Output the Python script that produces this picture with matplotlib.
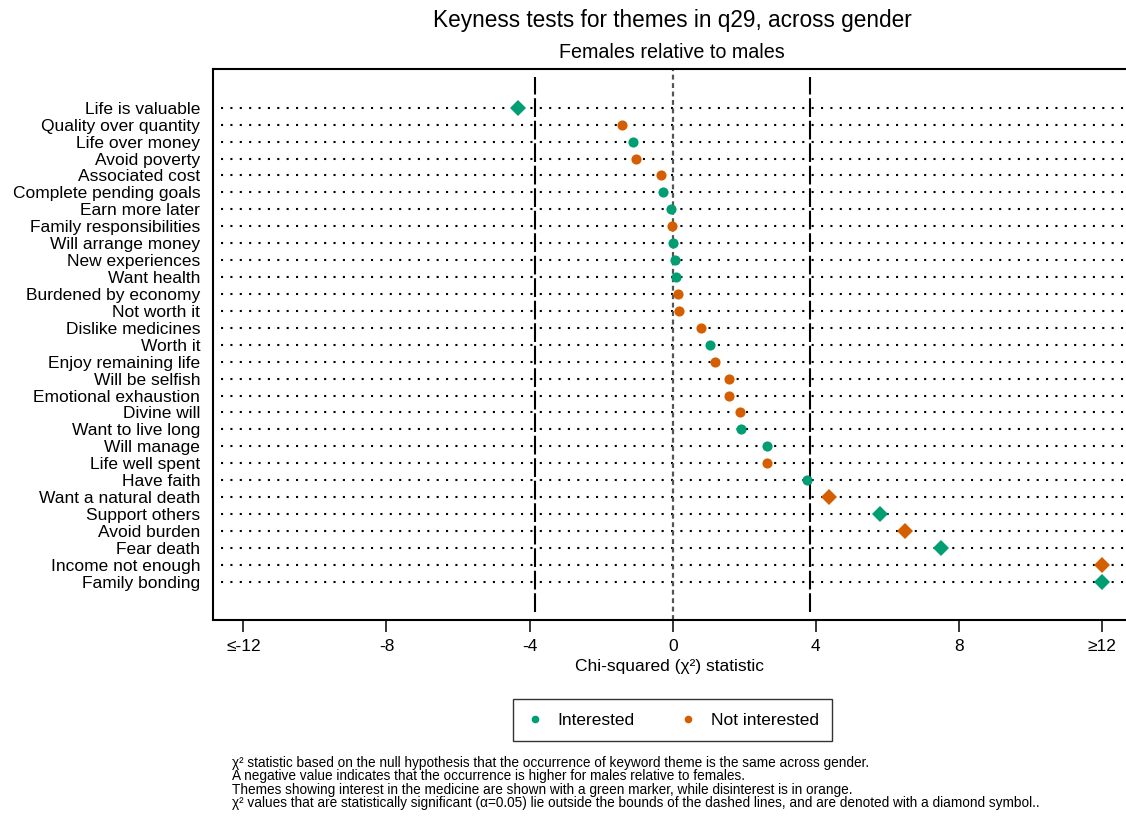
import matplotlib
matplotlib.use("Agg")
import matplotlib.pyplot as plt
from matplotlib.lines import Line2D

plt.rcParams['font.family'] = ['Liberation Sans', 'DejaVu Sans']

# ---------------- data ----------------
themes = [
    "Life is valuable", "Quality over quantity", "Life over money", "Avoid poverty",
    "Associated cost", "Complete pending goals", "Earn more later", "Family responsibilities",
    "Will arrange money", "New experiences", "Want health", "Burdened by economy",
    "Not worth it", "Dislike medicines", "Worth it", "Enjoy remaining life",
    "Will be selfish", "Emotional exhaustion", "Divine will", "Want to live long",
    "Will manage", "Life well spent", "Have faith", "Want a natural death",
    "Support others", "Avoid burden", "Fear death", "Income not enough", "Family bonding",
]
chi2 = [
    -4.33, -1.41, -1.10, -1.03,
    -0.32, -0.28, -0.06, -0.02,
    0.00, 0.06, 0.10, 0.15,
    0.18, 0.79, 1.03, 1.17,
    1.57, 1.58, 1.88, 1.91,
    2.63, 2.64, 3.75, 4.37,
    5.79, 6.49, 7.49, 12.0, 12.0,
]
interested = [
    True, False, True, False,
    False, True, True, False,
    True, True, True, False,
    False, False, True, False,
    False, False, False, True,
    True, False, True, False,
    True, False, True, False, True,
]
xticks = [-12, -8, -4, 0, 4, 8, 12]
xticklabels = ["≤-12", "-8", "-4", "0", "4", "8", "≥12"]
critical = 3.84

GREEN = "#009E73"
ORANGE = "#D55E00"

W, H = 1126, 816
fig = plt.figure(figsize=(W / 100, H / 100), dpi=100)

left_px, right_px, top_px, bot_px = 212.7, 1126, 69.3, 619.5
ax = fig.add_axes([left_px / W, 1 - bot_px / H, (right_px - left_px) / W, (bot_px - top_px) / H])

n = len(themes)
ys = list(range(n))

# dotted row guides
for y in ys:
    ax.axhline(y, xmin=0.009, xmax=1, color="black", lw=1.5,
               linestyle=(0, (1, 3.5)), dash_capstyle="butt", zorder=1)

# reference lines
for c in (-critical, critical):
    ax.axvline(c, ymin=0.014, ymax=0.986, color="black", lw=1.5,
               linestyle=(0, (9, 1.8)), zorder=2)
ax.axvline(0, color="#555555", lw=1.6, linestyle=(0, (2.2, 1.6)), zorder=2)

# markers
for x, y, it in zip(chi2, ys, interested):
    col = GREEN if it else ORANGE
    if abs(x) > critical:
        ax.plot([x], [y], marker="D", ms=8.6, color=col, mec=col, mew=0, zorder=3, ls="none")
    else:
        ax.plot([x], [y], marker="o", ms=7.3, color=col, mec=col, mew=0, zorder=3, ls="none")

x0 = 672.7
scale = 35.78
ax.set_xlim((left_px - x0) / scale, (right_px - x0) / scale)
ax.set_ylim(n - 1 + 2.23, -2.27)

ax.set_yticks(ys)
ax.set_yticklabels(themes, fontsize=12.5)
ax.tick_params(axis="y", length=0, pad=9)

ax.set_xticks(xticks)
ax.set_xticklabels(xticklabels, fontsize=12.5)
ax.tick_params(axis="x", direction="out", length=8.3, width=1.1, pad=6)
ax.set_xlabel("Chi-squared (χ²) statistic", fontsize=12.5, labelpad=3)

for s in ("left", "bottom", "top"):
    ax.spines[s].set_linewidth(1.5)
ax.spines["right"].set_visible(False)

fig.text(672 / W, 1 - 20 / H, "Keyness tests for themes in q29, across gender",
         ha="center", va="center", fontsize=16.3)
fig.text(672 / W, 1 - 52 / H, "Females relative to males",
         ha="center", va="center", fontsize=14.2)

handles = [
    Line2D([], [], marker="o", ls="none", color=GREEN, mew=0, ms=5.5),
    Line2D([], [], marker="o", ls="none", color=ORANGE, mew=0, ms=5.5),
]
leg = fig.legend(handles, ["Interested", "Not interested"], ncol=2,
                 loc="center", bbox_to_anchor=(672.5 / W, 1 - 720 / H),
                 fontsize=12.5, frameon=True, fancybox=False, edgecolor="black",
                 handlelength=1.0, handletextpad=0.8, columnspacing=2.6,
                 borderpad=0.75, borderaxespad=0)
leg.get_frame().set_linewidth(1.0)

notes = [
    "χ² statistic based on the null hypothesis that the occurrence of keyword theme is the same across gender.",
    "A negative value indicates that the occurrence is higher for males relative to females.",
    "Themes showing interest in the medicine are shown with a green marker, while disinterest is in orange.",
    "χ² values that are statistically significant (α=0.05) lie outside the bounds of the dashed lines, and are denoted with a diamond symbol..",
]
for i, t in enumerate(notes):
    fig.text(232 / W, 1 - (763 + 13.4 * i) / H, t, ha="left", va="center", fontsize=9.8)

fig.savefig("out.png", dpi=100)
